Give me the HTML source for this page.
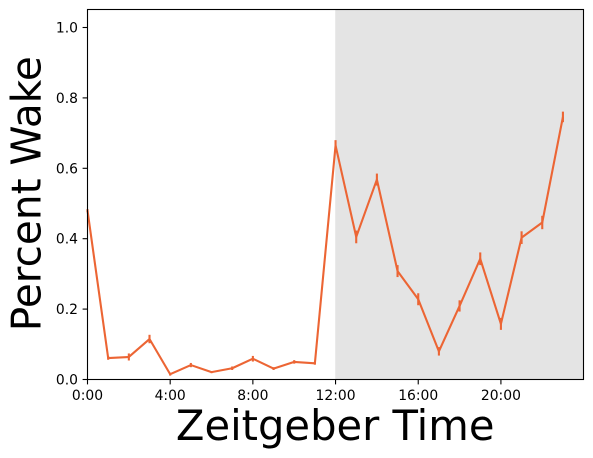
<!DOCTYPE html>
<html>
<head>
<meta charset="utf-8">
<style>
html,body{margin:0;padding:0;background:#fff;}
svg{display:block;font-family:"DejaVu Sans",sans-serif;}
</style>
</head>
<body>
<svg id="chart" width="593" height="458" viewBox="0 0 593 458" xmlns="http://www.w3.org/2000/svg">
<rect x="0" y="0" width="593" height="458" fill="#fff"/>
<g id="shade"></g>
<g id="series"></g>
<g id="ticks"></g>
<rect x="87.5" y="9.5" width="496" height="370" fill="none" stroke="#000" stroke-width="1.1"/>
<text x="335.2" y="440" font-size="41.67" text-anchor="middle" fill="#000">Zeitgeber Time</text>
<text transform="translate(40.5,193.7) rotate(-90)" font-size="40.6" text-anchor="middle" fill="#000">Percent Wake</text>
</svg>
<script>
const hours = [0,1,2,3,4,5,6,7,8,9,10,11,12,13,14,15,16,17,18,19,20,21,22,23];
const wake = [0.48,0.061,0.064,0.115,0.015,0.041,0.021,0.032,0.059,0.031,0.05,0.046,0.665,0.405,0.568,0.308,0.228,0.08,0.209,0.343,0.158,0.403,0.446,0.746];
const wakeErr = [0.004,0.005,0.01,0.012,0.004,0.006,0.003,0.005,0.008,0.004,0.005,0.004,0.015,0.018,0.017,0.017,0.017,0.012,0.016,0.018,0.017,0.018,0.019,0.015];
const xTickHours = [0,4,8,12,16,20];
const xTickLabels = ["0:00","4:00","8:00","12:00","16:00","20:00"];
const yTickValues = [0,0.2,0.4,0.6,0.8,1];
const yTickLabels = ["0.0","0.2","0.4","0.6","0.8","1.0"];
const shadeRange = [12,24];
const xDomain = [0,24];
const yDomain = [0,1.05];

const NS = 'http://www.w3.org/2000/svg';
const LEFT = 87.5, RIGHT = 583.6, TOP = 9.9, BOTTOM = 379.5;
function xScale(h){ return LEFT + (h - xDomain[0]) / (xDomain[1] - xDomain[0]) * (RIGHT - LEFT); }
function yScale(v){ return BOTTOM - (v - yDomain[0]) / (yDomain[1] - yDomain[0]) * (BOTTOM - TOP); }
function make(tag, attrs){
  const el = document.createElementNS(NS, tag);
  for (const k in attrs) el.setAttribute(k, attrs[k]);
  return el;
}
const COLOR = '#ec6534';

const shadeG = document.getElementById('shade');
const shadeRect = make('rect', {x: xScale(shadeRange[0]) - 0.3, y: TOP, width: xScale(shadeRange[1]) - xScale(shadeRange[0]), height: BOTTOM - TOP, fill: '#e4e4e4'});


shadeG.appendChild(shadeRect);

const seriesG = document.getElementById('series');
hours.forEach(function(h, i){
  const bar = make('line', {x1: xScale(h), x2: xScale(h), y1: yScale(wake[i] - wakeErr[i]), y2: yScale(wake[i] + wakeErr[i]), stroke: COLOR, 'stroke-width': 2.1});
  
  
  seriesG.appendChild(bar);
});
const points = hours.map(function(h, i){ return xScale(h) + ',' + yScale(wake[i]); }).join(' ');
const line = make('polyline', {points: points, fill: 'none', stroke: COLOR, 'stroke-width': 2.1, 'stroke-linejoin': 'round'});


seriesG.appendChild(line);

const ticksG = document.getElementById('ticks');
xTickHours.forEach(function(h, i){
  const x = xScale(h);
  const tick = make('line', {x1: x, x2: x, y1: BOTTOM, y2: BOTTOM + 4.9, stroke: '#000', 'stroke-width': 1.1});
  
  
  ticksG.appendChild(tick);
  const label = make('text', {x: x, y: 400, 'font-size': 13.89, 'text-anchor': 'middle', fill: '#000'});
  
  
  label.textContent = xTickLabels[i];
  ticksG.appendChild(label);
});
yTickValues.forEach(function(v, i){
  const y = yScale(v);
  const tick = make('line', {x1: LEFT - 4.9, x2: LEFT, y1: y, y2: y, stroke: '#000', 'stroke-width': 1.1});
  
  
  ticksG.appendChild(tick);
  const label = make('text', {x: LEFT - 9.5, y: y + 5, 'font-size': 13.89, 'text-anchor': 'end', fill: '#000'});
  
  
  label.textContent = yTickLabels[i];
  ticksG.appendChild(label);
});
</script>
</body>
</html>
